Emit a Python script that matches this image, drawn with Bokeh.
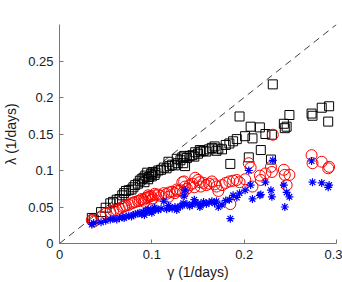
from bokeh.plotting import figure
from bokeh.models import Range1d, FixedTicker
from bokeh.embed import file_html
from bokeh.resources import INLINE

gamma = [0.035, 0.037, 0.045, 0.050, 0.055, 0.058, 0.062, 0.065, 0.068, 0.070,
         0.072, 0.075, 0.078, 0.080, 0.082, 0.085, 0.087, 0.089, 0.091, 0.093,
         0.095, 0.097, 0.099, 0.101, 0.104, 0.107, 0.110, 0.113, 0.116, 0.119,
         0.122, 0.125, 0.128, 0.131, 0.133, 0.135, 0.136, 0.138, 0.141, 0.144,
         0.147, 0.150, 0.153, 0.156, 0.159, 0.162, 0.165, 0.168, 0.172, 0.176,
         0.180, 0.184, 0.188, 0.192, 0.185, 0.195, 0.201, 0.205, 0.207, 0.209,
         0.217, 0.218, 0.223, 0.229, 0.230, 0.231, 0.243, 0.244, 0.246, 0.249,
         0.273, 0.274, 0.284, 0.291, 0.292,
         0.092, 0.096, 0.100, 0.103, 0.118, 0.127, 0.134, 0.146, 0.152, 0.170]

lam_black = [0.035, 0.033, 0.043, 0.049, 0.055, 0.057, 0.060, 0.061, 0.066, 0.069,
             0.072, 0.073, 0.074, 0.077, 0.080, 0.082, 0.086, 0.088, 0.090, 0.093,
             0.097, 0.091, 0.095, 0.098, 0.097, 0.100, 0.101, 0.104, 0.103, 0.106,
             0.108, 0.107, 0.110, 0.114, 0.118, 0.120, 0.106, 0.117, 0.120, 0.121,
             0.125, 0.123, 0.126, 0.127, 0.126, 0.129, 0.131, 0.133, 0.130, 0.129,
             0.135, 0.137, 0.140, 0.143, 0.109, 0.174, 0.147, 0.118, 0.160, 0.144,
             0.159, 0.128, 0.150, 0.115, 0.149, 0.218, 0.164, 0.158, 0.160, 0.176,
             0.178, 0.175, 0.186, 0.167, 0.188,
             0.084, 0.088, 0.092, 0.094, 0.112, 0.116, 0.110, 0.119, 0.128, 0.127]

lam_red = [0.032, 0.030, 0.037, 0.041, 0.043, 0.045, 0.046, 0.048, 0.050, 0.051,
           0.052, 0.053, 0.055, 0.056, 0.057, 0.058, 0.059, 0.061, 0.060, 0.062,
           0.063, 0.064, 0.065, 0.062, 0.066, 0.067, 0.065, 0.069, 0.068, 0.070,
           0.071, 0.069, 0.072, 0.073, 0.084, 0.085, 0.078, 0.075, 0.080, 0.082,
           0.090, 0.087, 0.078, 0.083, 0.080, 0.082, 0.085, 0.081, 0.072, 0.080,
           0.083, 0.085, 0.086, 0.087, 0.054, 0.084, 0.088, 0.110, 0.104, 0.078,
           0.093, 0.087, 0.096, 0.105, 0.098, 0.149, 0.101, 0.094, 0.080, 0.094,
           0.121, 0.110, 0.112, 0.103, 0.105,
           0.057, 0.066, 0.060, 0.068, 0.064, 0.074, 0.070, 0.077, 0.084, 0.078]

lam_blue = [0.026, 0.028, 0.029, 0.031, 0.033, 0.034, 0.033, 0.035, 0.036, 0.035,
            0.037, 0.038, 0.037, 0.039, 0.040, 0.041, 0.042, 0.040, 0.043, 0.044,
            0.045, 0.043, 0.046, 0.045, 0.047, 0.046, 0.048, 0.058, 0.047, 0.049,
            0.048, 0.050, 0.049, 0.051, 0.052, 0.065, 0.073, 0.054, 0.051, 0.053,
            0.056, 0.055, 0.052, 0.057, 0.054, 0.056, 0.058, 0.055, 0.050, 0.053,
            0.059, 0.060, 0.066, 0.063, 0.034, 0.069, 0.073, 0.100, 0.080, 0.061,
            0.066, 0.067, 0.084, 0.073, 0.064, 0.114, 0.080, 0.050, 0.070, 0.064,
            0.113, 0.084, 0.083, 0.077, 0.080,
            0.039, 0.047, 0.042, 0.049, 0.052, 0.046, 0.055, 0.060, 0.050, 0.058]

diag = [0.0, 0.3]
x_ticks = [0, 0.1, 0.2, 0.3]
y_ticks = [0, 0.05, 0.1, 0.15, 0.2, 0.25]

p = figure(width=342, height=282, output_backend="svg", toolbar_location=None,
           x_range=Range1d(0, 0.3), y_range=Range1d(0, 0.3),
           min_border_left=59, min_border_right=6, min_border_top=24,
           min_border_bottom=39)
p.outline_line_color = None
p.xgrid.visible = False
p.ygrid.visible = False

p.line(diag, diag, line_color="#404040", line_width=1, line_dash="7 5")
p.scatter(gamma, lam_black, marker="square", size=9, fill_color=None,
          line_color="black", line_width=1)
p.scatter(gamma, lam_red, marker="circle", size=11, fill_color=None,
          line_color="#ff0000", line_width=1)
p.scatter(gamma, lam_blue, marker="asterisk", size=8,
          line_color="#0000ff", line_width=1.2)

font = "Liberation Sans"
for ax, ticks in ((p.xaxis, x_ticks), (p.yaxis, y_ticks)):
    ax.ticker = FixedTicker(ticks=ticks)
    ax.minor_tick_line_color = None
    ax.major_tick_in = 4
    ax.major_tick_out = 0
    ax.axis_line_color = "#777777"
    ax.major_tick_line_color = "#777777"
    ax.major_label_text_font = font
    ax.major_label_text_font_size = "13px"
    ax.major_label_text_color = "#1a1a1a"
    ax.axis_label_text_font = font
    ax.axis_label_text_font_size = "14px"
    ax.axis_label_text_font_style = "normal"
    ax.axis_label_text_color = "#1a1a1a"

p.xaxis.major_label_overrides = {0: "0", 0.1: "0.1", 0.2: "0.2", 0.3: "0.3"}
p.yaxis.major_label_overrides = {0: "0", 0.05: "0.05", 0.1: "0.1", 0.15: "0.15",
                                 0.2: "0.2", 0.25: "0.25"}
p.xaxis.axis_label = "γ (1/days)"
p.yaxis.axis_label = "λ (1/days)"
p.xaxis.major_label_standoff = 6
p.yaxis.major_label_standoff = 6
p.xaxis.axis_label_standoff = 2
p.yaxis.axis_label_standoff = 6

open("out.html", "w").write(file_html(p, INLINE))
